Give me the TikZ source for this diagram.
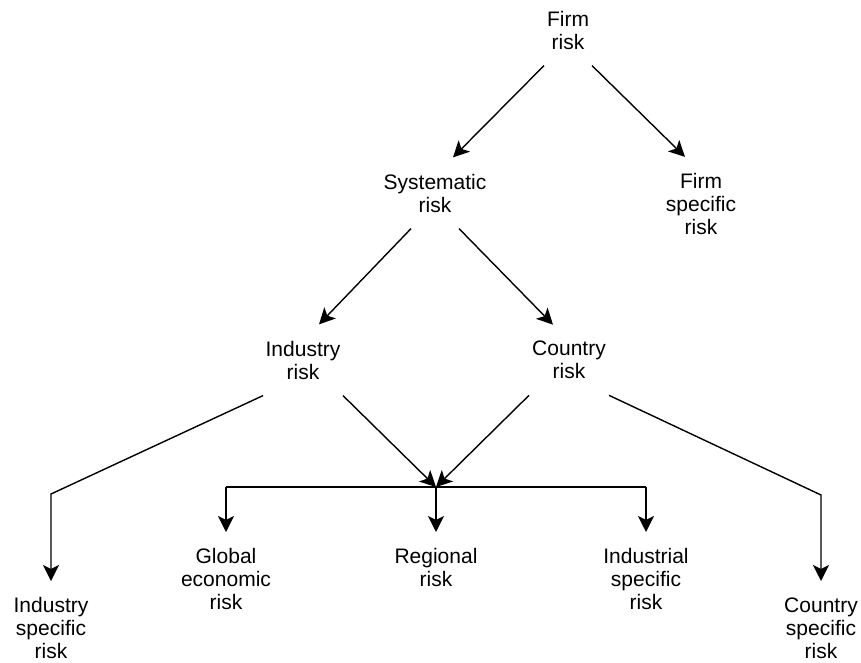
\documentclass[tikz,border=0pt]{standalone}
\usepackage{fontspec}
\setmainfont{Liberation Sans}
\usetikzlibrary{arrows.meta}

\begin{document}
\begin{tikzpicture}[
  x=0.5pt, y=-0.5pt,
  risk/.style={align=center, inner xsep=0pt, inner ysep=8pt, font=\fontsize{10.5}{11.5}\selectfont},
  arr/.style={-{Stealth[length=8pt, width=8pt, inset=2pt]}, line width=0.7pt},
  plain/.style={line width=0.7pt}
]
  \useasboundingbox (0,0) rectangle (861,663);

  % upper levels
  \node[risk] (firm) at (568,30) {Firm\\risk};
  \node[risk] (sys) at (435,193) {Systematic\\risk};
  \node[risk] (firmspec) at (701,204) {Firm\\specific\\risk};
  \node[risk] (ind) at (303,360) {Industry\\risk};
  \node[risk] (ctry) at (569,360) {Country\\risk};

  % bottom row
  \node[risk, anchor=north] (global) at (226,532) {Global\\economic\\risk};
  \node[risk, anchor=north] (regional) at (436,532) {Regional\\risk};
  \node[risk, anchor=north] (indus) at (646,532) {Industrial\\specific\\risk};
  \node[risk, anchor=north] (indspec) at (51,581) {Industry\\specific\\risk};
  \node[risk, anchor=north] (ctryspec) at (821,581) {Country\\specific\\risk};

  \coordinate (merge) at (436,487);
  \coordinate (indbend) at (51,494);
  \coordinate (ctrybend) at (821,495);

  \draw[arr] ([xshift=-12pt]firm.south) -- ([xshift=9pt]sys.north);
  \draw[arr] ([xshift=12pt]firm.south) -- ([xshift=-8pt]firmspec.north);
  \draw[arr] ([xshift=-12pt]sys.south) -- ([xshift=8pt]ind.north);
  \draw[arr] ([xshift=12pt]sys.south) -- ([xshift=-8pt]ctry.north);

  \draw[arr] ([xshift=-20pt]ind.south) -- (indbend) -- (indspec.north);
  \draw[arr] ([xshift=20pt]ind.south) -- (merge);
  \draw[arr] ([xshift=-20pt]ctry.south) -- (merge);
  \draw[arr] ([xshift=20pt]ctry.south) -- (ctrybend) -- (ctryspec.north);

  \draw[plain] (merge -| global) -- (merge -| indus);
  \foreach \n in {global, regional, indus}
    \draw[arr] (merge -| \n.north) -- (\n.north);
\end{tikzpicture}
\end{document}
